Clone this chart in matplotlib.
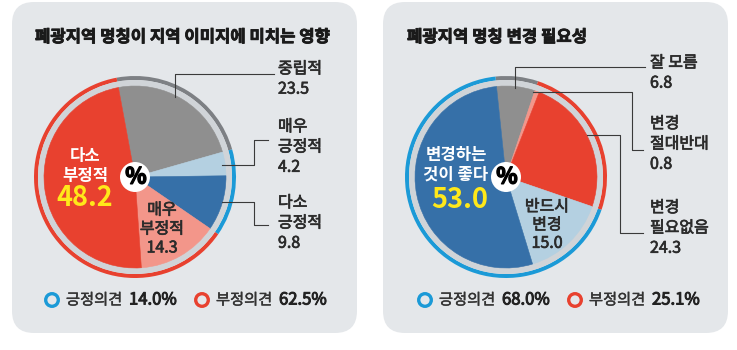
import numpy as np
import matplotlib.pyplot as plt
import matplotlib.patheffects as pe
from matplotlib.patches import FancyBboxPatch, Circle

plt.rcParams['font.family'] = ['Noto Sans CJK KR', 'DejaVu Sans']

# left chart: 폐광지역 명칭이 지역 이미지에 미치는 영향
left_title = '폐광지역 명칭이 지역 이미지에 미치는 영향'
left_cats = ['중립적', '매우\n긍정적', '다소\n긍정적', '매우\n부정적', '다소\n부정적']
left_vals = [23.5, 4.2, 9.8, 14.3, 48.2]
left_groups = [23.5, 14.0, 62.5]          # 중립, 긍정, 부정
left_legend = [14.0, 62.5]                # 긍정의견, 부정의견

# right chart: 폐광지역 명칭 변경 필요성
right_title = '폐광지역 명칭 변경 필요성'
right_cats = ['잘 모름', '변경\n절대반대', '변경\n필요없음', '반드시\n변경', '변경하는\n것이 좋다']
right_vals = [6.8, 0.8, 24.3, 15.0, 53.0]
right_groups = [6.8, 25.1, 68.0]          # 모름, 부정, 긍정
right_legend = [68.0, 25.1]

C_RED = '#e8412f'
C_SALMON = '#f3968a'
C_GRAY = '#8f8f8f'
C_LBLUE = '#b4d0e1'
C_DBLUE = '#3670a8'
R_BLUE = '#1b9ad7'
R_RED = '#e8412f'
R_GRAY = '#7d8084'
BAND = '#d0d4d8'
PANEL = '#e4e7ea'
TXT = '#2b2b2b'

H = 350


def Y(y):
    # pixel-from-top -> axes y
    return H - y


def heavy(col, w=0.5):
    return [pe.withStroke(linewidth=w, foreground=col)]


fig = plt.figure(figsize=(7.37, 3.5), dpi=100)
ax = fig.add_axes([0, 0, 1, 1])


def panel(x0, x1):
    ax.add_patch(FancyBboxPatch((x0 + 22, Y(333) + 22), x1 - x0 - 44, 331 - 44,
                                boxstyle='round,pad=22', fc=PANEL, ec='none', zorder=0))


def donut(cx, cy, vals, pie_cols, groups, ring_cols, start):
    c = (cx, Y(cy))
    ax.pie(groups, colors=ring_cols, radius=101, center=c, startangle=start,
           counterclock=False, wedgeprops=dict(width=4, linewidth=0))
    ax.add_patch(Circle(c, 97, fc=BAND, ec='none', zorder=1))
    w, _ = ax.pie(vals, colors=pie_cols, radius=91, center=c, startangle=start,
                  counterclock=False, wedgeprops=dict(linewidth=0.4))
    for wi, col in zip(w, pie_cols):
        wi.set_edgecolor(col)
        wi.set_zorder(2)
    ax.add_patch(Circle(c, 15, fc='white', ec='none', zorder=3))
    ax.text(cx + 1, Y(cy), '%', ha='center', va='center', fontsize=16,
            fontweight='bold', color='black', zorder=4, path_effects=heavy('black', 1.0))


def leader(pts):
    xs = [p[0] for p in pts]
    ys = [Y(p[1]) for p in pts]
    ax.plot(xs, ys, color='#3a3a3a', lw=0.8, zorder=5)


def side_label(x, yc, cat, val):
    ax.text(x, Y(yc), f'{cat}\n{val}', ha='left', va='center', fontsize=11.5,
            color=TXT, linespacing=1.25, zorder=5, path_effects=heavy(TXT))


def legend(x, y, pos, neg):
    for cx, col, name, v in [(x, R_BLUE, '긍정의견', pos), (x + 150, R_RED, '부정의견', neg)]:
        ax.add_patch(Circle((cx, Y(y)), 6.3, fc='none', ec=col, lw=2.4, zorder=5))
        ax.text(cx + 14, Y(y), name, ha='left', va='center', fontsize=11,
                color='#333333', path_effects=heavy('#333333', 0.3))
        ax.text(cx + 77, Y(y), f'{v:.1f}%', ha='left', va='center', fontsize=12,
                color='#222222', path_effects=heavy('#222222', 0.7))


# ---- left panel
panel(12, 357)
ax.text(35, Y(37), left_title, ha='left', va='center', fontsize=12,
        fontweight='bold', color='#1a1a1a', path_effects=heavy('#1a1a1a', 0.6))
donut(135, 177, left_vals, [C_GRAY, C_LBLUE, C_DBLUE, C_SALMON, C_RED],
      left_groups, [R_GRAY, R_BLUE, R_RED], 100.5)

leader([(175, 97), (175, 74), (274, 74)])
leader([(222, 165), (254, 165), (254, 140), (268, 140)])
leader([(222, 202), (254, 202), (254, 225), (268, 225)])
side_label(278, 79, left_cats[0], left_vals[0])
side_label(278, 147, left_cats[1], left_vals[1])
side_label(278, 223, left_cats[2], left_vals[2])

ax.text(162, Y(229), f'{left_cats[3]}\n{left_vals[3]}', ha='center', va='center',
        fontsize=11.5, color=TXT, linespacing=1.15, zorder=5, path_effects=heavy(TXT))
ax.text(85, Y(166), left_cats[4], ha='center', va='center', fontsize=12,
        fontweight='bold', color='white', linespacing=1.1, zorder=5)
ax.text(85, Y(198), f'{left_vals[4]}', ha='center', va='center', fontsize=19.5,
        fontweight='bold', color='#ffe81a', zorder=5)

legend(52, 300, *left_legend)

# ---- right panel
panel(383, 728)
ax.text(407, Y(37), right_title, ha='left', va='center', fontsize=12,
        fontweight='bold', color='#1a1a1a', path_effects=heavy('#1a1a1a', 0.6))
donut(506, 177, right_vals, [C_GRAY, C_SALMON, C_RED, C_LBLUE, C_DBLUE],
      right_groups, [R_GRAY, R_RED, R_BLUE], 96)

leader([(515, 88), (515, 67), (645, 67)])
leader([(533, 92), (632, 92), (632, 150), (643, 150)])
leader([(587, 135), (620, 135), (620, 233), (643, 233)])
side_label(650, 73, right_cats[0], right_vals[0])
side_label(650, 144, right_cats[1], right_vals[1])
side_label(650, 228, right_cats[2], right_vals[2])

ax.text(547, Y(225), f'{right_cats[3]}\n{right_vals[3]}', ha='center', va='center',
        fontsize=11.5, color=TXT, linespacing=1.1, zorder=5, path_effects=heavy(TXT))
ax.text(456, Y(165), right_cats[4], ha='center', va='center', fontsize=12,
        fontweight='bold', color='white', linespacing=1.1, zorder=5)
ax.text(460, Y(200), f'{right_vals[4]}', ha='center', va='center', fontsize=19.5,
        fontweight='bold', color='#ffe81a', zorder=5)

legend(425, 300, *right_legend)

ax.set_xlim(0, 737)
ax.set_ylim(0, H)
ax.set_aspect('auto')
ax.axis('off')

fig.savefig('out.png', dpi=100, facecolor='white')
